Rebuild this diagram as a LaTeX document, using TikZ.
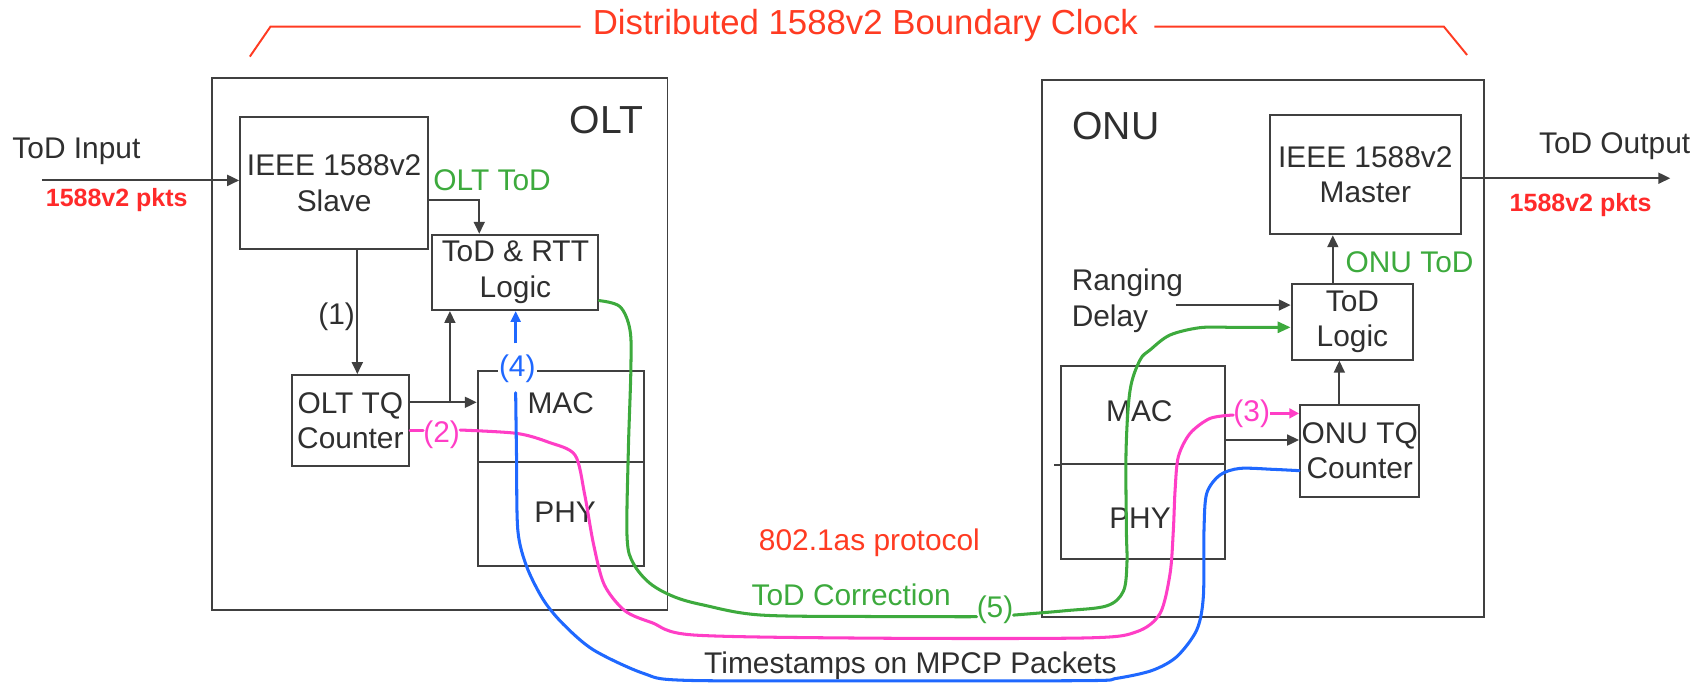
\documentclass[tikz,border=0pt]{standalone}
\usepackage{fontspec}
\setmainfont{Liberation Sans}
\usetikzlibrary{arrows.meta}
\definecolor{lc}{HTML}{404040}
\definecolor{tc}{HTML}{2F2F2F}
\definecolor{tred}{HTML}{FF3B22}
\definecolor{pred}{HTML}{FF2A2A}
\definecolor{grn}{HTML}{3DAA3D}
\definecolor{pnk}{HTML}{FF3EC6}
\definecolor{blu}{HTML}{1F68FF}
\newcommand{\myfm}{\fontsize{27.5}{32.5}\selectfont}
\newcommand{\myrng}{\fontsize{27.5}{33.7}\selectfont}
\newcommand{\mybig}{\fontsize{36}{40}\selectfont}
\newcommand{\mytitle}{\fontsize{32}{36}\selectfont}
\newcommand{\mypk}{\fontsize{23}{27}\selectfont\bfseries}
\begin{document}
\begin{tikzpicture}[x=1pt,y=-1pt,
  box/.style={draw=lc, line width=1.8pt, inner sep=0pt, align=center, text=tc, font=\myfm},
  frame/.style={draw=lc, line width=1.8pt, inner sep=0pt},
  txt/.style={inner sep=0pt, text=tc, font=\myfm},
  arr/.style={draw=lc, line width=2pt, -{Triangle[length=11pt,width=10pt]}},
  barr/.style={draw=blu, line width=2.8pt, -{Triangle[length=10pt,width=9pt]}},
  parr/.style={draw=pnk, line width=2.8pt, -{Triangle[length=9pt,width=9pt]}},
  gline/.style={draw=grn, line width=2.8pt, line cap=round, line join=round},
  garr/.style={gline, -{Triangle[length=12pt,width=10pt]}},
  pline/.style={draw=pnk, line width=2.8pt, line cap=round, line join=round},
  bline/.style={draw=blu, line width=2.8pt, line cap=round, line join=round},
  tline/.style={draw=tred, line width=1.8pt},
  boxline/.style={draw=lc, line width=1.8pt}
]
\useasboundingbox (0,0) rectangle (1568,628);

% title and bracket
\node[txt, text=tred, font=\mytitle, anchor=base] (title) at (796.3,32.2) {Distributed 1588v2 Boundary Clock};
\coordinate (bl1) at (229.9,52.1);
\coordinate (bl2) at (248.9,24.5);
\coordinate (br1) at (1328.6,24.5);
\coordinate (br2) at (1350,50.6);
\coordinate (tl) at ([xshift=-11pt]title.west);
\coordinate (tr) at ([xshift=15pt]title.east);
\draw[tline] (bl1) -- (bl2) -- (bl2 -| tl);
\draw[tline] (tr |- br1) -- (br1) -- (br2);

% outer frames
\node[frame, minimum width=418.8, minimum height=489.5] (olt) at (404.8,316.75) {};
\node[frame, minimum width=407.1, minimum height=493.8] (onu) at (1162.15,320.9) {};
\node[txt, font=\mybig, anchor=base] (oltlbl) at (558,122.7) {OLT};
\node[txt, font=\mybig, anchor=base] (onulbl) at (1026.8,128.8) {ONU};

% OLT blocks
\node[box, minimum width=173, minimum height=121.4] (slave) at (307.5,168.7) {IEEE 1588v2\\Slave};
\node[box, minimum width=152.7, minimum height=69.3] (todrtt) at (474.25,250.65) {ToD \& RTT\\Logic};
\node[box, minimum width=108, minimum height=83.7] (olttq) at (322.4,387) {OLT TQ\\Counter};
\node[frame, minimum width=153, minimum height=83.7] (oltmac) at (516.1,383) {};
\node[frame, minimum width=153, minimum height=95.7] (oltphy) at (516.1,472.65) {};
\node[txt] (oltmact) at (516,371) {MAC};
\node[txt] (oltphyt) at (520,471) {PHY};

% ONU blocks
\node[box, minimum width=175.3, minimum height=109.8] (master) at (1256.35,160.7) {IEEE 1588v2\\Master};
\node[box, minimum width=111.7, minimum height=69.4] (todl) at (1244.45,296.3) {ToD\\Logic};
\node[box, minimum width=109.8, minimum height=84.3] (onutq) at (1251.2,414.85) {ONU TQ\\Counter};
\node[frame, minimum width=151.6, minimum height=90.2] (onumac) at (1051.8,381.9) {};
\node[frame, minimum width=151.6, minimum height=87.7] (onuphy) at (1051.8,470.85) {};
\draw[boxline] (onumac.south west) -- ++(-5,0);
\node[txt] (onumact) at (1048.4,378.8) {MAC};
\node[txt] (onuphyt) at (1049,477) {PHY};

% side texts
\node[txt, anchor=base west] (todin) at (11.3,145.7) {ToD Input};
\node[txt, anchor=base west, text=pred, font=\mypk] (pktin) at (42,190) {1588v2 pkts};
\node[txt, anchor=base west] (todout) at (1416,141) {ToD Output};
\node[txt, anchor=base west, text=pred, font=\mypk] (pktout) at (1389,194.5) {1588v2 pkts};
\node[txt, anchor=base west, text=grn] (olttod) at (398.6,175.4) {OLT ToD};
\node[txt, anchor=base west, text=grn] (onutod) at (1238,250.6) {ONU ToD};
\node[txt, anchor=west, align=left, font=\myrng] (rng) at (986,276.8) {Ranging\\Delay};
\node[txt, text=tred, anchor=base] (proto) at (800,506.7) {802.1as protocol};
\node[txt, text=grn, anchor=base] (corr) at (783.3,557.3) {ToD Correction};
\node[txt, anchor=base west] (tstamp) at (647.8,620.2) {Timestamps on MPCP Packets};

% number labels
\node[txt] (n1) at (309.8,291.4) {(1)};
\node[txt, text=pnk] (n2) at (406.4,400.3) {(2)};
\node[txt, text=pnk] (n3) at (1151.8,380.4) {(3)};
\node[txt, text=blu, fill=white, inner sep=1pt] (n4) at (476,339) {(4)};
\node[txt, text=grn] (n5) at (915.6,560.7) {(5)};

% gray arrows
\coordinate (inp) at (38.5,166);
\draw[arr] (inp) -- (inp -| slave.west);
\coordinate (slv1) at ([yshift=-15.3pt]slave.east);
\coordinate (rtt1) at ([xshift=-33.25pt]todrtt.north);
\draw[arr] (slv1) -| (rtt1);
\coordinate (tq1) at ([xshift=6.4pt]olttq.north);
\draw[arr] (tq1 |- slave.south) -- (tq1);
\coordinate (tq2) at ([yshift=16.8pt]olttq.east);
\draw[arr] (tq2) -- (tq2 -| oltmac.west);
\coordinate (rtt2) at ([xshift=-60.25pt]todrtt.south);
\draw[arr] (rtt2 |- tq2) -- (rtt2);
\coordinate (outp) at (1537,164);
\draw[arr] (master.east |- outp) -- (outp);
\coordinate (tl1) at ([xshift=-18pt]todl.north);
\draw[arr] (tl1) -- (tl1 |- master.south);
\coordinate (tl2) at ([xshift=-12pt]todl.south);
\draw[arr] (tl2 |- onutq.north) -- (tl2);
\coordinate (rg) at ([xshift=-7pt,yshift=-3.9pt]rng.east);
\draw[arr] (rg) -- (rg -| todl.west);
\coordinate (om) at ([yshift=-23pt]onumac.east);
\draw[arr] (om) -- (om -| onutq.west);

% pink path (2) -> (3)
\coordinate (p0) at ([yshift=-9.3pt]olttq.east);
\draw[pline] (p0) -- (p0 -| n2.west);
\coordinate (p1) at ([yshift=4.6pt]n2.east);
\coordinate (p2) at ([yshift=-1.5pt]n3.west);
\draw[pline] plot[smooth, tension=0.5] coordinates {(p1) (475.5,398.8) (505,407) (529.1,418.7) (538,455) (546,500) (556,538) (575,562) (600,573) (638,584.3) (800,587.2) (1000,587) (1046,581.3) (1067.5,564.4) (1076.7,527.6) (1079.7,487.7) (1081.3,450.9) (1084.3,420.2) (1095.1,398.8) (1113.5,385) (p2)};
\draw[parr] (n3.east) -- (n3.east -| onutq.west);

% blue path (4)
\coordinate (b4) at ([xshift=-1.5pt,yshift=9pt]n4.north);
\draw[barr] (b4) -- (b4 |- todrtt.south);
\coordinate (b0) at ([xshift=-1.5pt,yshift=-8.4pt]n4.south);
\coordinate (b1) at ([yshift=-18.25pt]onutq.west);
\draw[bline] plot[smooth, tension=0.5] coordinates {(b0) (475.3,420) (476.5,488) (484.7,521.5) (500,552) (518,574) (546,598) (592,619.6) (630,626) (800,626.5) (1000,626.3) (1027.6,624.2) (1060,617) (1082.8,604.3) (1101.2,579.7) (1107.3,549.1) (1107.9,487.7) (1110.4,454) (1122.6,437.1) (1141,431) (1171.7,431.9) (b1)};

% green path (5)
\coordinate (g0) at ([yshift=-26pt]todrtt.east);
\coordinate (g1) at ([yshift=-6.8pt]n5.west);
\draw[gline] plot[smooth, tension=0.55] coordinates {(g0) (570.5,282.2) (579.7,303.7) (580.5,340) (578.2,414) (577,494) (582.8,518.4) (598.1,536.8) (620,549) (647.2,556.7) (699.4,565.9) (800,567.3) (g1)};
\coordinate (g2) at ([yshift=-5.3pt]n5.east);
\coordinate (g3) at (1130,301.2);
\draw[garr] plot[smooth, tension=0.55] coordinates {(g2) (980,562) (1018.4,557.5) (1033.7,544) (1037,518) (1036.5,487.7) (1036.2,414.1) (1039.9,358.9) (1049,331.3) (1058.3,322) (1076.6,308.3) (1104.2,301.5) (g3)} -- (g3 -| todl.west);
\end{tikzpicture}
\end{document}
